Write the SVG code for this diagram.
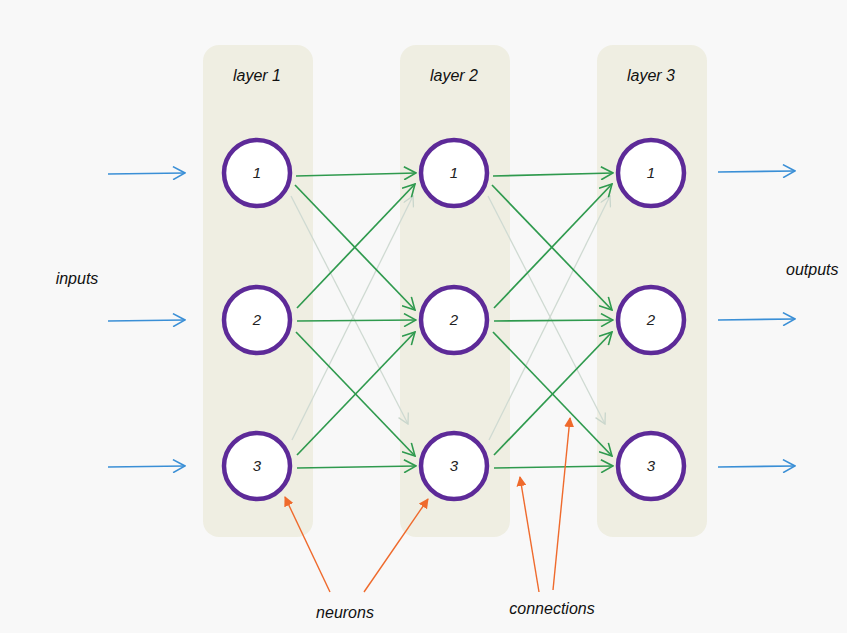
<svg xmlns="http://www.w3.org/2000/svg" width="847" height="633" viewBox="0 0 847 633">
<defs>
<marker id="g" viewBox="0 0 14 14" refX="13" refY="7" markerWidth="14" markerHeight="14" markerUnits="userSpaceOnUse" orient="auto"><path d="M1,0.5 L13,7 L1,13.5" fill="none" stroke="#2f9a4e" stroke-width="1.6"/></marker>
<marker id="gf" viewBox="0 0 12 12" refX="11" refY="6" markerWidth="12" markerHeight="12" markerUnits="userSpaceOnUse" orient="auto"><path d="M1,0.5 L11,6 L1,11.5" fill="none" stroke="#c9d6cc" stroke-width="1.3"/></marker>
<marker id="b" viewBox="0 0 14 14" refX="13" refY="7" markerWidth="14" markerHeight="14" markerUnits="userSpaceOnUse" orient="auto"><path d="M1,0.5 L13,7 L1,13.5" fill="none" stroke="#3a8fd6" stroke-width="1.6"/></marker>
<marker id="o" viewBox="0 0 10 10" refX="9" refY="5" markerWidth="10" markerHeight="10" markerUnits="userSpaceOnUse" orient="auto"><path d="M0,0 L10,5 L0,10 Z" fill="#ef6a2c"/></marker>
</defs>
<style>
.panel{fill:#efeee2}
.node circle{fill:#ffffff;stroke:#5d2a98;stroke-width:4.5}
.num{font-family:"Liberation Sans",sans-serif;font-style:italic;font-size:15px;fill:#222;text-anchor:middle}
.lbl{font-family:"Liberation Sans",sans-serif;font-style:italic;font-size:16px;fill:#111;text-anchor:middle}
.cg{stroke:#2f9a4e;stroke-width:1.7;fill:none;marker-end:url(#g)}
.cf{stroke:#cfdad2;stroke-width:1.3;fill:none;marker-end:url(#gf)}
.cb{stroke:#3a8fd6;stroke-width:1.7;fill:none;marker-end:url(#b)}
.co{stroke:#ef6a2c;stroke-width:1.4;fill:none;marker-end:url(#o)}
</style>
<rect width="847" height="633" fill="#f8f8f8"/>
<g id="panels">
<rect class="panel" x="203" y="45" width="110" height="492" rx="16"/>
<rect class="panel" x="400" y="45" width="110" height="492" rx="16"/>
<rect class="panel" x="597" y="45" width="110" height="492" rx="16"/>
<text class="lbl" x="257" y="81">layer 1</text>
<text class="lbl" x="454" y="81">layer 2</text>
<text class="lbl" x="651" y="81">layer 3</text>
</g>
<g id="connectors">
<path class="cf" d="M291,196 L408,424"/>
<path class="cf" d="M292,440 L413,196"/>
<path class="cf" d="M488,196 L605,424"/>
<path class="cf" d="M489,440 L610,196"/>
<path class="cg" d="M296,176 L416,173"/>
<path class="cg" d="M295,185 L415,310"/>
<path class="cg" d="M297,308 L415,184"/>
<path class="cg" d="M297,321 L416,320"/>
<path class="cg" d="M296,332 L415,456"/>
<path class="cg" d="M297,455 L415,332"/>
<path class="cg" d="M297,468 L416,466"/>
<path class="cg" d="M493,176 L613,173"/>
<path class="cg" d="M492,185 L612,310"/>
<path class="cg" d="M494,308 L612,184"/>
<path class="cg" d="M494,321 L613,320"/>
<path class="cg" d="M493,332 L612,456"/>
<path class="cg" d="M494,455 L612,332"/>
<path class="cg" d="M494,468 L613,466"/>
<path class="cb" d="M108,174 L185,173"/>
<path class="cb" d="M108,321 L185,320"/>
<path class="cb" d="M108,467 L185,466"/>
<path class="cb" d="M718,172 L795,171"/>
<path class="cb" d="M718,320 L795,319"/>
<path class="cb" d="M718,467 L795,466"/>
<path class="co" d="M330,592 L285,497"/>
<path class="co" d="M364,592 L428,499"/>
<path class="co" d="M539,592 L520,477"/>
<path class="co" d="M553,590 L570,418"/>
</g>
<g id="n1-1" class="node"><circle cx="257" cy="173" r="33"/><text class="num" x="257" y="178">1</text></g>
<g id="n1-2" class="node"><circle cx="257" cy="320" r="33"/><text class="num" x="257" y="325">2</text></g>
<g id="n1-3" class="node"><circle cx="257" cy="466" r="33"/><text class="num" x="257" y="471">3</text></g>
<g id="n2-1" class="node"><circle cx="454" cy="173" r="33"/><text class="num" x="454" y="178">1</text></g>
<g id="n2-2" class="node"><circle cx="454" cy="320" r="33"/><text class="num" x="454" y="325">2</text></g>
<g id="n2-3" class="node"><circle cx="454" cy="466" r="33"/><text class="num" x="454" y="471">3</text></g>
<g id="n3-1" class="node"><circle cx="651" cy="173" r="33"/><text class="num" x="651" y="178">1</text></g>
<g id="n3-2" class="node"><circle cx="651" cy="320" r="33"/><text class="num" x="651" y="325">2</text></g>
<g id="n3-3" class="node"><circle cx="651" cy="466" r="33"/><text class="num" x="651" y="471">3</text></g>
<g id="labels">
<text class="lbl" x="77" y="284">inputs</text>
<text class="lbl" x="786" y="275" style="text-anchor:start">outputs</text>
<text class="lbl" x="345" y="618">neurons</text>
<text class="lbl" x="552" y="614">connections</text>
</g>
</svg>
